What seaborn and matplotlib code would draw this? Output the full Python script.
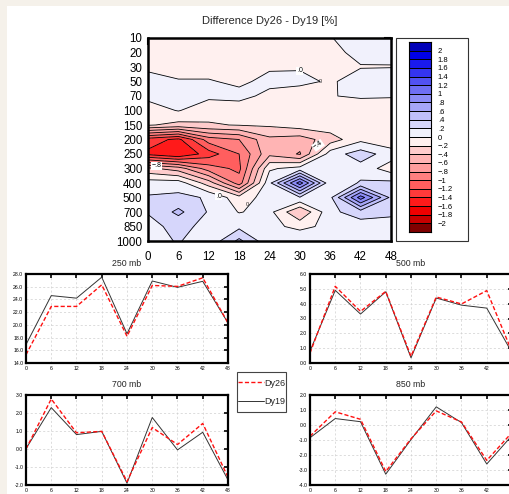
import numpy as np
import pandas as pd
import matplotlib
matplotlib.use("Agg")
import matplotlib.pyplot as plt
from matplotlib.colors import ListedColormap, BoundaryNorm
from matplotlib.patches import Rectangle
from matplotlib.ticker import FormatStrFormatter
import seaborn as sns

# ---- data -------------------------------------------------------------
hours = [0, 6, 12, 18, 24, 30, 36, 42, 48]
pressure_levels = ["10", "20", "30", "50", "70", "100", "150", "200",
                   "250", "300", "400", "500", "700", "850", "1000"]

# Dy26 - Dy19 difference [%], one row per pressure level, one column per hour
diff_10 = [-0.10, -0.10, -0.10, -0.10, -0.10, -0.10, -0.01, 0.10, 0.10]
diff_20 = [-0.10, -0.10, -0.10, -0.10, -0.10, -0.10, -0.05, 0.05, 0.03]
diff_30 = [-0.05, -0.10, -0.10, -0.10, -0.03, -0.02, -0.05, -0.01, -0.005]
diff_50 = [0.10, 0.02, 0.02, -0.05, 0.07, 0.06, -0.03, 0.10, 0.10]
diff_70 = [0.05, 0.10, 0.04, 0.08, -0.07, -0.14, -0.01, 0.03, 0.02]
diff_100 = [-0.09, 0.01, -0.12, -0.15, -0.10, -0.10, -0.10, -0.15, -0.15]
diff_150 = [-0.18, -0.26, -0.22, -0.19, -0.17, -0.10, -0.08, -0.10, -0.10]
diff_200 = [-1.30, -1.45, -0.90, -0.80, -0.45, -0.50, -0.30, -0.05, -0.15]
diff_250 = [-1.45, -1.60, -1.30, -1.00, -0.45, -0.62, 0.10, 0.30, 0.10]
diff_300 = [-0.35, -0.50, -0.90, -1.05, -0.03, 0.08, 0.10, 0.12, -0.10]
diff_400 = [0.10, 0.10, -0.30, -0.90, 0.15, 1.10, 0.05, 0.22, 0.25]
diff_500 = [0.22, 0.25, 0.18, -0.12, 0.10, 0.18, 0.15, 1.10, 0.35]
diff_700 = [0.21, 0.45, 0.18, -0.01, 0.06, -0.40, 0.15, 0.30, 0.25]
diff_850 = [0.15, 0.25, 0.15, 0.15, 0.05, -0.05, 0.05, 0.10, 0.10]
diff_1000 = [0.10, 0.22, 0.05, 0.45, 0.05, 0.15, 0.02, 0.05, 0.05]

dy26_250mb = [15.3, 22.9, 22.9, 26.3, 18.2, 26.2, 26.05, 27.4, 20.3]
dy19_250mb = [16.9, 24.6, 24.2, 27.5, 18.6, 26.9, 25.9, 26.85, 20.3]
dy26_500mb = [0.67, 5.17, 3.48, 4.83, 0.45, 4.45, 3.98, 4.88, 0.75]
dy19_500mb = [0.80, 4.90, 3.30, 4.80, 0.35, 4.38, 3.90, 3.70, 0.70]
dy26_700mb = [0.00, 2.78, 0.90, 0.98, -1.81, 1.19, 0.25, 1.42, -1.57]
dy19_700mb = [0.02, 2.30, 0.80, 0.98, -1.90, 1.75, -0.05, 0.93, -1.72]
dy26_850mb = [-0.75, 0.88, 0.38, -3.10, -0.92, 0.94, 0.20, -2.36, -0.50]
dy19_850mb = [-0.85, 0.43, 0.22, -3.28, -0.97, 1.21, 0.16, -2.60, -0.70]

# ---- style ------------------------------------------------------------
sns.set_theme(style="white")
plt.rcParams["font.family"] = ["Liberation Sans", "DejaVu Sans"]
plt.rcParams["axes.unicode_minus"] = True

W, H = 510, 494
fig = plt.figure(figsize=(W / 100, H / 100), dpi=100)
fig.patch.set_facecolor("#f5f1ea")
fig.add_artist(Rectangle((7 / W, 0), 1, 1 - 6 / H, transform=fig.transFigure,
                         facecolor="white", edgecolor="none", zorder=-5))


def px_box(left, top, right, bottom):
    return [left / W, 1 - bottom / H, (right - left) / W, (bottom - top) / H]


# ---- contour panel ----------------------------------------------------
field = np.array([diff_10, diff_20, diff_30, diff_50, diff_70, diff_100,
                  diff_150, diff_200, diff_250, diff_300, diff_400,
                  diff_500, diff_700, diff_850, diff_1000])
line_levels = np.round(np.arange(-2.0, 2.01, 0.2), 1)
fill_bounds = np.concatenate([[-2.2], line_levels, [2.2]])
fill_colors = ["#800000", "#c80000", "#f00000", "#ff1a1a", "#ff3a3a",
               "#ff5e5e", "#ff7f7f", "#ff9c9c", "#ffb4b4", "#ffcccc",
               "#fff0ef", "#f1f1fc", "#d6d6fb", "#bfbffa", "#a6a6f8",
               "#8c8cf6", "#6f6ff4", "#5252f2", "#3434f0", "#1a1aee",
               "#0000e6", "#0000b8"]
cmap = ListedColormap(fill_colors)
norm = BoundaryNorm(fill_bounds, cmap.N)

ax = fig.add_axes(px_box(148, 38, 391, 241))
rows = np.arange(len(pressure_levels))
ax.contourf(hours, rows, field, levels=fill_bounds, cmap=cmap, norm=norm,
            extend="both")
ax.contour(hours, rows, field, levels=line_levels, colors="black",
           linewidths=0.6, linestyles="solid")
ax.set_xlim(0, 48)
ax.set_ylim(len(pressure_levels) - 1, 0)
ax.set_xticks(hours)
ax.set_yticks(rows)
ax.set_yticklabels(pressure_levels)
ax.tick_params(direction="in", length=5, width=1.5, top=True, right=True,
               labelsize=8.3, pad=4, colors="black")
ax.tick_params(axis="x", pad=7)
for s in ax.spines.values():
    s.set_linewidth(1.8)
    s.set_color("black")
ax.set_title("Difference Dy26 - Dy19 [%]", fontsize=8, pad=10)

label_style = dict(fontsize=5, ha="center", va="center", color="black",
                   bbox=dict(facecolor="white", edgecolor="none", pad=0.4))
ax.text(1.7, 8.8, "\u2212.8", **label_style)
ax.text(30, 2.25, ".0", **label_style)
ax.text(14, 10.9, ".0", **label_style)
ax.text(33.6, 7.4, "\u2212.4", rotation=35, **label_style)
ax.text(34, 3.0, "0", fontsize=4, ha="center", va="center")
ax.text(19.6, 11.5, "0", fontsize=4, ha="center", va="center")

# colour key
fig.add_artist(Rectangle((396 / W, 1 - 241 / H), 72 / W, 203 / H,
                         transform=fig.transFigure, facecolor="none",
                         edgecolor="#333333", linewidth=0.8))
cax = fig.add_axes(px_box(409, 42, 431, 232))
cell_mid = (fill_bounds[:-1] + fill_bounds[1:]) / 2
cax.pcolormesh([0, 1], fill_bounds, cell_mid.reshape(-1, 1), cmap=cmap,
               norm=norm, edgecolors="black", linewidth=0.6)
cax.set_ylim(fill_bounds[0], fill_bounds[-1])
cax.set_xlim(0, 1)
cax.set_xticks([])


def short_num(v):
    if abs(v) < 1e-9:
        return "0"
    txt = f"{abs(v):g}"
    if txt.startswith("0."):
        txt = txt[1:]
    return ("\u2212" if v < 0 else "") + txt


cax.yaxis.tick_right()
cax.set_yticks(line_levels)
cax.set_yticklabels([short_num(v) for v in line_levels])
cax.tick_params(axis="y", length=0, labelsize=5.5, pad=5, colors="black")
for s in cax.spines.values():
    s.set_linewidth(0.8)
    s.set_color("black")

# ---- time series panels -----------------------------------------------
panels = [
    ("250 mb", px_box(26, 274, 228, 363), dy26_250mb, dy19_250mb, 14.0, 28.0, 2.0, False),
    ("500 mb", px_box(310, 274, 512, 363), dy26_500mb, dy19_500mb, 0.0, 6.0, 1.0, True),
    ("700 mb", px_box(26, 395, 228, 485), dy26_700mb, dy19_700mb, -2.0, 3.0, 1.0, False),
    ("850 mb", px_box(310, 395, 512, 485), dy26_850mb, dy19_850mb, -4.0, 2.0, 1.0, True),
]
legend_lines = None
for title, rect, d26, d19, lo, hi, step, clipped in panels:
    a = fig.add_axes(rect)
    sns.lineplot(x=hours, y=d19, color="#333333", linewidth=0.7, ax=a)
    sns.lineplot(x=hours, y=d26, color="#ff1010", linewidth=1.0, ax=a)
    a.lines[-1].set_dashes([3, 1.6])
    if legend_lines is None:
        legend_lines = [a.lines[-1], a.lines[0]]
    a.set_xlim(0, 48)
    a.set_ylim(lo, hi)
    a.set_xticks(hours)
    a.set_xticklabels([("" if (clipped and h == 48) else str(h)) for h in hours])
    a.set_yticks(np.arange(lo, hi + step / 2, step))
    a.yaxis.set_major_formatter(FormatStrFormatter("%.1f"))
    a.grid(True, color="#cfcfcf", linestyle=(0, (3, 3)), linewidth=0.5)
    a.tick_params(direction="in", length=3, width=1.2, top=True, right=True,
                  labelsize=3.7, pad=2, colors="black")
    for s in a.spines.values():
        s.set_linewidth(1.6)
        s.set_color("black")
    a.set_xlabel("")
    a.set_ylabel("")
    a.set_title(title, fontsize=6.3, pad=6)

# legend: frame box plus centred entries
fig.add_artist(Rectangle((237 / W, 1 - 412 / H), 49 / W, 40 / H,
                         transform=fig.transFigure, facecolor="white",
                         edgecolor="#444444", linewidth=0.8, zorder=4))
leg = fig.legend(legend_lines, ["Dy26", "Dy19"], loc="center",
                 bbox_to_anchor=(261.5 / W, 1 - 392.5 / H),
                 bbox_transform=fig.transFigure, frameon=False,
                 fontsize=6.5, handlelength=2.9, handleheight=1.0,
                 handletextpad=0.0, labelspacing=1.05, borderpad=0.0,
                 borderaxespad=0)
leg.set_zorder(5)

fig.savefig("out.png", dpi=100, facecolor=fig.get_facecolor())
